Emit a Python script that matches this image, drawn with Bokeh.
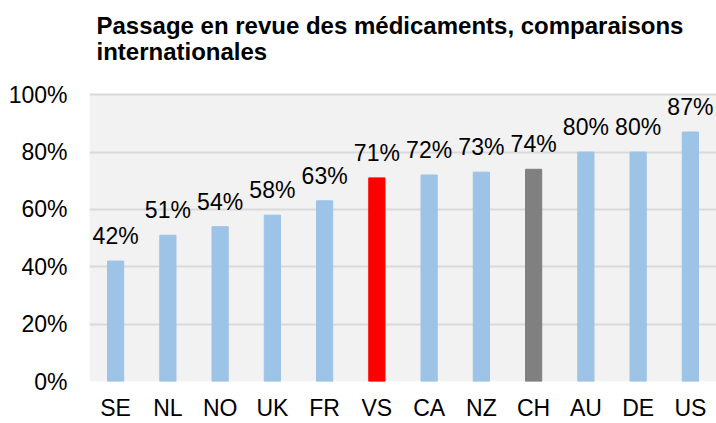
from bokeh.plotting import figure
from bokeh.models import ColumnDataSource, Label, BoxAnnotation, FixedTicker, CustomJSTickFormatter
from bokeh.core.properties import value
from bokeh.embed import file_html
from bokeh.resources import INLINE

countries = ["SE", "NL", "NO", "UK", "FR", "VS", "CA", "NZ", "CH", "AU", "DE", "US"]
shares = [42, 51, 54, 58, 63, 71, 72, 73, 74, 80, 80, 87]
bar_colors = ["#9dc3e6"] * 5 + ["#ff0000", "#9dc3e6", "#9dc3e6", "#808080", "#9dc3e6", "#9dc3e6", "#9dc3e6"]
y_ticks = [0, 20, 40, 60, 80, 100]
title_lines = ["Passage en revue des médicaments, comparaisons", "internationales"]

FONT = "Liberation Sans"
Y_TOP = 132.85  # frame extends up to the canvas top so the title lives inside it

src = ColumnDataSource(dict(
    x=countries, y=shares, color=bar_colors,
    label=[f"{v}%" for v in shares],
))

p = figure(width=716, height=423, x_range=countries, y_range=(0, Y_TOP),
           output_backend="svg", toolbar_location=None, tools="",
           min_border_left=89, min_border_right=0, min_border_top=0,
           min_border_bottom=40)

p.background_fill_color = "white"
p.border_fill_color = "white"
p.outline_line_color = None

# grey plotting area 0..100 %
p.add_layout(BoxAnnotation(bottom=0, top=100, fill_color="#f2f2f2", fill_alpha=1,
                           line_color=None, level="image"))

p.vbar(x="x", top="y", width=0.31, color="color", source=src)
p.text(x="x", y="y", text="label", source=src, text_align="center",
       text_baseline="alphabetic", y_offset=-25, text_font=value(FONT),
       text_font_size="23px", text_color="black")

p.x_range.range_padding = 0
p.xgrid.grid_line_color = None
p.ygrid.grid_line_color = "#d9d9d9"
p.ygrid.grid_line_width = 2
p.yaxis.ticker = FixedTicker(ticks=y_ticks)
p.yaxis.formatter = CustomJSTickFormatter(code="return tick + '%';")

for ax in (p.xaxis, p.yaxis):
    ax.axis_line_color = None
    ax.major_tick_line_color = None
    ax.minor_tick_line_color = None
    ax.major_tick_out = 0
    ax.major_tick_in = 0
    ax.major_label_text_font = FONT
    ax.major_label_text_font_size = "23px"
    ax.major_label_text_color = "black"
p.yaxis.major_label_standoff = 22
p.xaxis.major_label_standoff = 13

for txt, yy in zip(title_lines, [124.3, 115.0]):
    p.add_layout(Label(x=7, x_units="screen", y=yy, y_units="data", text=txt,
                       text_font=FONT, text_font_style="bold",
                       text_font_size="24px", text_color="black",
                       text_baseline="alphabetic", text_align="left"))

open("out.html", "w").write(file_html(p, INLINE))
